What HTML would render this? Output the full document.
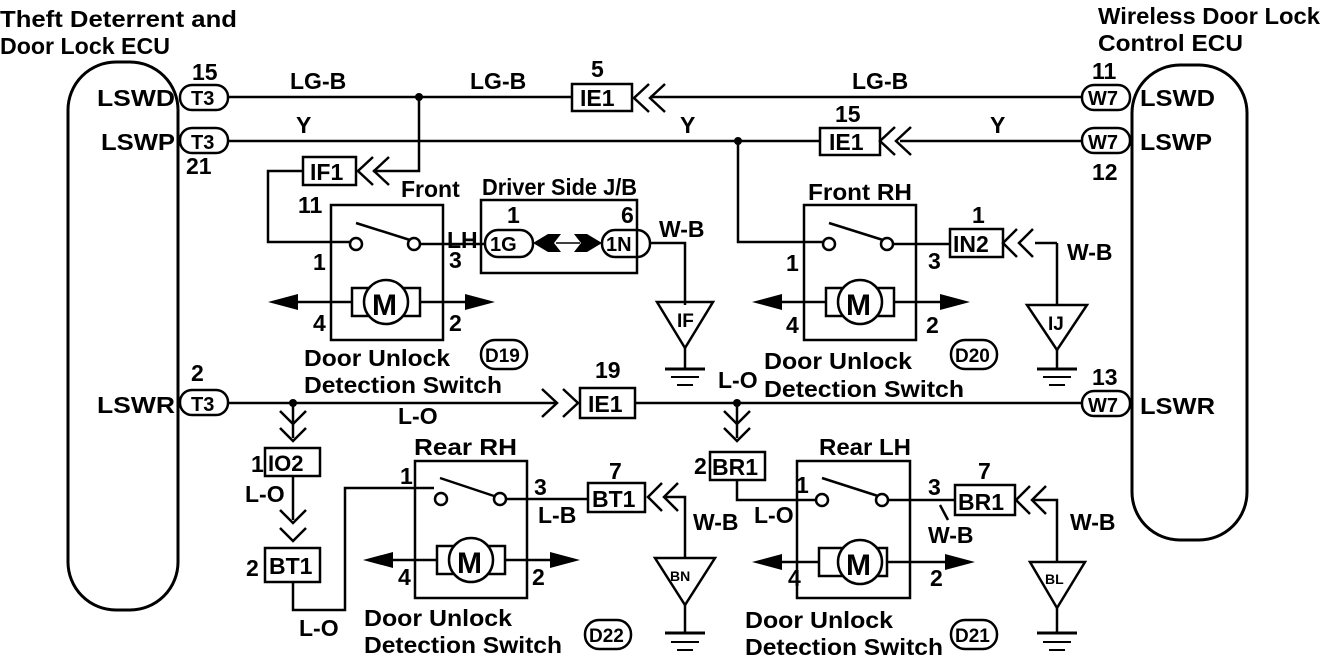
<!DOCTYPE html>
<html><head><style>
html,body{margin:0;padding:0;background:#fff;}
svg{display:block;}
text{font-family:"Liberation Sans",Arial,sans-serif;font-weight:bold;font-size:23px;fill:#000;}
</style></head><body>
<svg width="1344" height="668" viewBox="0 0 1344 668" xmlns="http://www.w3.org/2000/svg">
<g fill="none" stroke="#000" stroke-width="2.5">
<rect x="68" y="62" width="110" height="548" rx="48" stroke-width="3"/>
<rect x="1132" y="65" width="115" height="475" rx="48" stroke-width="3"/>
<rect x="180" y="85" width="48" height="25" rx="12"/>
<rect x="180" y="128" width="48" height="25" rx="12"/>
<rect x="180" y="390" width="48" height="25" rx="12"/>
<rect x="1082" y="85" width="48" height="25" rx="12"/>
<rect x="1082" y="128" width="48" height="25" rx="12"/>
<rect x="1082" y="391" width="48" height="25" rx="12"/>
<line x1="228" y1="97" x2="572" y2="97"/>
<line x1="650" y1="97" x2="1082" y2="97"/>
<line x1="228" y1="141" x2="820" y2="141"/>
<line x1="900" y1="141" x2="1082" y2="141"/>
<polyline points="419,97 419,171 373,171"/>
<polyline points="303,171 268,171 268,242 350,242"/>
<polyline points="738,141 738,242 823,242"/>
<line x1="228" y1="403" x2="555" y2="403"/>
<line x1="635" y1="403" x2="1082" y2="403"/>
<line x1="293" y1="403" x2="293" y2="438"/>
<line x1="293" y1="475" x2="293" y2="520"/>
<polyline points="293,582 293,610 345,610 345,488 434,488"/>
<line x1="737" y1="403" x2="737" y2="438"/>
<polyline points="737,480 737,500 816,500"/>
<polyline points="649,84 634,98 649,112"/><polyline points="665,84 650,98 665,112"/>
<polyline points="895,127 880,141 895,155"/><polyline points="911,127 896,141 911,155"/>
<polyline points="373,157 358,171 373,185"/><polyline points="389,157 374,171 389,185"/>
<polyline points="1017,229 1003,243 1017,257"/><polyline points="1033,229 1019,243 1033,257"/>
<polyline points="1057,243 1035,243"/><line x1="1057" y1="243" x2="1057" y2="305"/>
<polyline points="662,483 648,497 662,511"/><polyline points="678,483 664,497 678,511"/>
<polyline points="685,497 666,497 685,497 685,558"/>
<polyline points="1030,486 1016,500 1030,514"/><polyline points="1046,486 1032,500 1046,514"/>
<polyline points="1057,500 1034,500 1057,500 1057,562"/>
<polyline points="542,389 557,403 542,417"/><polyline points="563,389 578,403 563,417"/>
<polyline points="280,411 293,424 306,411"/><polyline points="280,428 293,441 306,428"/>
<polyline points="280,510 293,523 306,510"/><polyline points="280,528 293,541 306,528"/>
<polyline points="724,411 737,424 750,411"/><polyline points="724,428 737,441 750,428"/>
<rect x="572" y="84" width="60" height="27"/>
<rect x="820" y="128" width="60" height="27"/>
<rect x="303" y="157" width="53" height="28"/>
<rect x="950" y="229" width="53" height="28"/>
<rect x="580" y="388" width="55" height="30"/>
<rect x="265" y="448" width="55" height="28"/>
<rect x="265" y="548" width="55" height="34"/>
<rect x="588" y="483" width="57" height="29"/>
<rect x="710" y="452" width="55" height="28"/>
<rect x="955" y="485" width="60" height="30"/>
<rect x="481" y="200" width="156" height="73"/>
<rect x="485" y="230" width="48" height="27" rx="13"/>
<rect x="602" y="230" width="48" height="27" rx="13"/>
<polyline points="650,243 685,243 685,305"/>
</g>
<path d="M533,243 L548,234 L561,234 L554,243 L561,252 L548,252 Z" fill="#000"/>
<path d="M602,243 L587,234 L574,234 L581,243 L574,252 L587,252 Z" fill="#000"/>
<line x1="556" y1="243" x2="580" y2="243" stroke="#000" stroke-width="1.5"/>
<g fill="#000"><circle cx="419" cy="97" r="4"/><circle cx="738" cy="141" r="4"/><circle cx="293" cy="403" r="4"/><circle cx="737" cy="403" r="4"/></g>

<g fill="none" stroke="#000" stroke-width="2.5">
<rect x="331" y="205" width="112" height="135"/>
<line x1="356" y1="223" x2="410" y2="240"/>
<circle cx="356" cy="244" r="6" fill="#fff"/><circle cx="414" cy="244" r="6" fill="#fff"/>
<line x1="420" y1="244" x2="485" y2="244"/>
<rect x="352" y="288" width="68" height="28"/><circle cx="386" cy="302" r="22" fill="#fff"/>
<line x1="285" y1="302" x2="352" y2="302"/><line x1="420" y1="302" x2="480" y2="302"/>
<rect x="804" y="205" width="112" height="135"/>
<line x1="829" y1="223" x2="883" y2="240"/>
<circle cx="829" cy="244" r="6" fill="#fff"/><circle cx="887" cy="244" r="6" fill="#fff"/>
<line x1="893" y1="244" x2="950" y2="244"/>
<rect x="826" y="288" width="68" height="28"/><circle cx="860" cy="302" r="22" fill="#fff"/>
<line x1="770" y1="302" x2="826" y2="302"/><line x1="894" y1="302" x2="955" y2="302"/>
<rect x="415" y="461" width="112" height="137"/>
<line x1="440" y1="478" x2="494" y2="496"/>
<circle cx="441" cy="499" r="6" fill="#fff"/><circle cx="500" cy="499" r="6" fill="#fff"/>
<line x1="506" y1="499" x2="588" y2="499"/>
<rect x="437" y="546" width="68" height="28"/><circle cx="471" cy="560" r="22" fill="#fff"/>
<line x1="380" y1="560" x2="437" y2="560"/><line x1="505" y1="560" x2="565" y2="560"/>
<rect x="797" y="461" width="113" height="137"/>
<line x1="822" y1="478" x2="878" y2="496"/>
<circle cx="822" cy="500" r="6" fill="#fff"/><circle cx="882" cy="500" r="6" fill="#fff"/>
<line x1="888" y1="500" x2="955" y2="500"/>
<line x1="940" y1="505" x2="948" y2="520"/>
<rect x="819" y="548" width="68" height="28"/><circle cx="860" cy="562" r="22" fill="#fff"/>
<line x1="770" y1="562" x2="819" y2="562"/><line x1="887" y1="562" x2="960" y2="562"/>
<polygon points="657,302 713,302 685,348"/><line x1="685" y1="348" x2="685" y2="368"/>
<polygon points="1027,305 1087,305 1057,350"/><line x1="1057" y1="350" x2="1057" y2="368"/>
<polygon points="655,558 715,558 685,605"/><line x1="685" y1="605" x2="685" y2="632"/>
<polygon points="1030,562 1085,562 1057,608"/><line x1="1057" y1="608" x2="1057" y2="632"/>
<rect x="481" y="340" width="46" height="29" rx="14"/>
<rect x="951" y="340" width="46" height="29" rx="14"/>
<rect x="585" y="620" width="46" height="29" rx="14"/>
<rect x="951" y="620" width="46" height="29" rx="14"/>
</g>
<g stroke="#000">
<line x1="665" y1="369" x2="705" y2="369" stroke-width="3"/><line x1="671" y1="377" x2="699" y2="377" stroke-width="2"/><line x1="677" y1="385" x2="693" y2="385" stroke-width="2"/>
<line x1="1037" y1="369" x2="1077" y2="369" stroke-width="3"/><line x1="1043" y1="377" x2="1071" y2="377" stroke-width="2"/><line x1="1049" y1="385" x2="1065" y2="385" stroke-width="2"/>
<line x1="665" y1="633" x2="705" y2="633" stroke-width="3"/><line x1="671" y1="642" x2="699" y2="642" stroke-width="2"/><line x1="677" y1="650" x2="693" y2="650" stroke-width="2"/>
<line x1="1037" y1="633" x2="1077" y2="633" stroke-width="3"/><line x1="1043" y1="642" x2="1071" y2="642" stroke-width="2"/><line x1="1049" y1="650" x2="1065" y2="650" stroke-width="2"/>
</g>
<g fill="#000">
<polygon points="268,302 298,294 298,310"/><polygon points="495,302 465,294 465,310"/>
<polygon points="752,302 782,294 782,310"/><polygon points="970,302 940,294 940,310"/>
<polygon points="363,560 393,552 393,568"/><polygon points="580,560 550,552 550,568"/>
<polygon points="752,562 782,554 782,570"/><polygon points="975,562 945,554 945,570"/>
</g>
<g>
<text x="0" y="27" textLength="237" lengthAdjust="spacingAndGlyphs">Theft Deterrent and</text>
<text x="0" y="54" textLength="170" lengthAdjust="spacingAndGlyphs">Door Lock ECU</text>
<text x="1098" y="24" textLength="222" lengthAdjust="spacingAndGlyphs">Wireless Door Lock</text>
<text x="1098" y="51" textLength="145" lengthAdjust="spacingAndGlyphs">Control ECU</text>
<text x="97" y="106" textLength="78" lengthAdjust="spacingAndGlyphs">LSWD</text><text x="101" y="150" textLength="74" lengthAdjust="spacingAndGlyphs">LSWP</text><text x="97" y="413" textLength="78" lengthAdjust="spacingAndGlyphs">LSWR</text>
<text x="1140" y="106" textLength="75" lengthAdjust="spacingAndGlyphs">LSWD</text><text x="1140" y="150" textLength="72" lengthAdjust="spacingAndGlyphs">LSWP</text><text x="1140" y="414" textLength="75" lengthAdjust="spacingAndGlyphs">LSWR</text>
<text x="191" y="105" style="font-size:20px">T3</text><text x="191" y="149" style="font-size:20px">T3</text><text x="191" y="411" style="font-size:20px">T3</text>
<text x="1088" y="105" style="font-size:20px">W7</text><text x="1088" y="149" style="font-size:20px">W7</text><text x="1088" y="412" style="font-size:20px">W7</text>
<text x="192" y="80">15</text><text x="186" y="174">21</text><text x="191" y="381">2</text>
<text x="1092" y="79">11</text><text x="1092" y="180">12</text><text x="1092" y="385">13</text>
<text x="290" y="89">LG-B</text><text x="470" y="89">LG-B</text><text x="852" y="89">LG-B</text>
<text x="296" y="133">Y</text><text x="680" y="133">Y</text><text x="990" y="133">Y</text>
<text x="591" y="77">5</text><text x="835" y="122">15</text>
<text x="580" y="106">IE1</text><text x="829" y="150">IE1</text><text x="588" y="412">IE1</text>
<text x="310" y="180">IF1</text><text x="953" y="252">IN2</text>
<text x="268" y="471" style="font-size:22px">IO2</text><text x="269" y="574">BT1</text><text x="592" y="507">BT1</text>
<text x="712" y="475">BR1</text><text x="958" y="510">BR1</text>
<text x="298" y="213">11</text><text x="401" y="197">Front</text><text x="447" y="248">LH</text>
<text x="482" y="195" textLength="155" lengthAdjust="spacingAndGlyphs">Driver Side J/B</text>
<text x="507" y="223">1</text><text x="621" y="223">6</text>
<text x="490" y="251" style="font-size:20px">1G</text><text x="606" y="251" style="font-size:20px">1N</text>
<text x="659" y="237">W-B</text>
<text x="313" y="270">1</text><text x="449" y="268">3</text><text x="313" y="331">4</text><text x="449" y="331">2</text>
<text x="808" y="200" textLength="104" lengthAdjust="spacingAndGlyphs">Front RH</text><text x="972" y="223">1</text><text x="1067" y="260">W-B</text>
<text x="786" y="271">1</text><text x="928" y="269">3</text><text x="786" y="333">4</text><text x="926" y="333">2</text>
<text x="304" y="366" textLength="146" lengthAdjust="spacingAndGlyphs">Door Unlock</text><text x="304" y="393" textLength="198" lengthAdjust="spacingAndGlyphs">Detection Switch</text>
<text x="764" y="369" textLength="148" lengthAdjust="spacingAndGlyphs">Door Unlock</text><text x="764" y="397" textLength="200" lengthAdjust="spacingAndGlyphs">Detection Switch</text>
<text x="485" y="362" style="font-size:19px">D19</text><text x="955" y="362" style="font-size:19px">D20</text>
<text x="677" y="327" style="font-size:19px">IF</text><text x="1048" y="330" style="font-size:19px">IJ</text>
<text x="595" y="378">19</text><text x="718" y="388">L-O</text><text x="398" y="424">L-O</text>
<text x="251" y="472">1</text><text x="245" y="502">L-O</text><text x="246" y="576">2</text><text x="299" y="636">L-O</text>
<text x="414" y="455" textLength="103" lengthAdjust="spacingAndGlyphs">Rear RH</text><text x="400" y="484">1</text><text x="534" y="495">3</text><text x="538" y="523">L-B</text>
<text x="398" y="585">4</text><text x="532" y="585">2</text>
<text x="609" y="479">7</text><text x="693" y="530">W-B</text>
<text x="670" y="581" style="font-size:14px">BN</text>
<text x="364" y="626" textLength="148" lengthAdjust="spacingAndGlyphs">Door Unlock</text><text x="364" y="653" textLength="198" lengthAdjust="spacingAndGlyphs">Detection Switch</text>
<text x="589" y="642" style="font-size:19px">D22</text>
<text x="694" y="474">2</text><text x="754" y="523">L-O</text>
<text x="819" y="455" textLength="92" lengthAdjust="spacingAndGlyphs">Rear LH</text><text x="796" y="493">1</text><text x="928" y="495">3</text><text x="928" y="543">W-B</text>
<text x="788" y="586">4</text><text x="930" y="586">2</text>
<text x="978" y="479">7</text><text x="1070" y="530">W-B</text>
<text x="1045" y="584" style="font-size:14px">BL</text>
<text x="745" y="628" textLength="148" lengthAdjust="spacingAndGlyphs">Door Unlock</text><text x="745" y="655" textLength="198" lengthAdjust="spacingAndGlyphs">Detection Switch</text>
<text x="955" y="642" style="font-size:19px">D21</text>
</g>
<text x="372" y="315" style="font-size:30px">M</text>
<text x="846" y="315" style="font-size:30px">M</text>
<text x="457" y="573" style="font-size:30px">M</text>
<text x="846" y="575" style="font-size:30px">M</text>
</svg>
</body></html>
